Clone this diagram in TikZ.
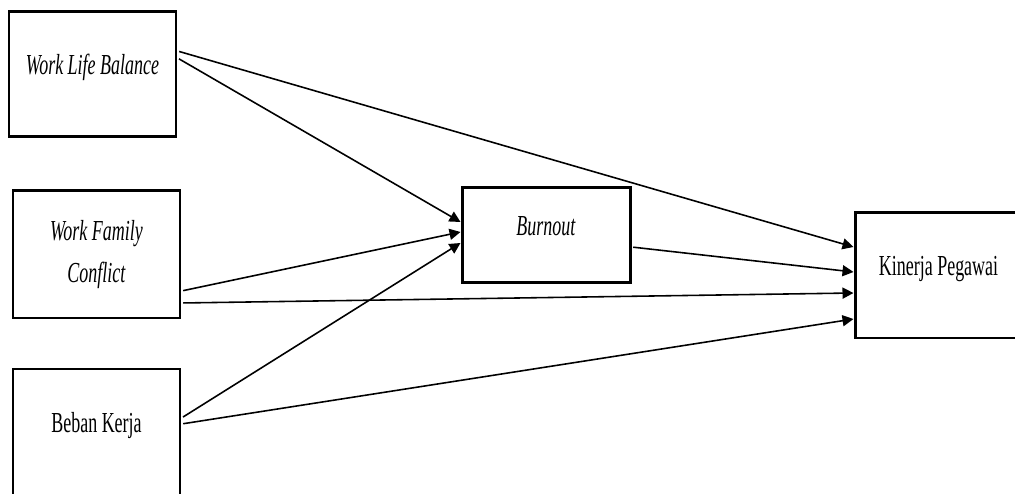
\documentclass[tikz,border=0pt]{standalone}
\usepackage{fontspec}
\setmainfont{Liberation Serif}[FakeStretch=0.62]
\usetikzlibrary{arrows.meta}

\tikzset{
    varbox/.style={draw, line width=1.7pt, minimum width=3.34cm, minimum height=2.5cm,
        inner sep=2pt, font=\fontsize{16.5pt}{23.8pt}\selectfont},
    oneline/.style={text height=3mm, text depth=3mm},
    path/.style={line width=0.9pt, shorten <=1pt, -{Triangle[length=2.2mm, width=2.2mm]}}
}

\begin{document}
\begin{tikzpicture}

% Frame of the figure (parts of two boxes run past it)
\useasboundingbox (0,0) rectangle (20.3,9.88);
\clip (0,0) rectangle (20.3,9.88);

% Independent variables (left column)
\node[varbox, oneline] (wlb) at (1.85,8.39) {\textit{Work Life Balance}};
\node[varbox, minimum height=2.54cm, align=center] (wfc) at (1.93,4.79)
    {\textit{Work Family}\\\textit{Conflict}};
\node[varbox, oneline, minimum height=2.54cm] (bk) at (1.93,1.23) {Beban Kerja};

% Mediator
\node[varbox, oneline, minimum width=3.36cm, minimum height=1.9cm] (burnout) at (10.92,5.17)
    {\textit{Burnout}};

% Dependent variable
\node[varbox, oneline] (kp) at (18.77,4.37) {Kinerja Pegawai};

% Paths into the mediator
\draw[path] ([yshift=0.33cm]wlb.east) -- ([yshift=0.27cm]burnout.west);
\draw[path] ([yshift=-0.73cm]wfc.east) -- ([yshift=0.07cm]burnout.west);
\draw[path] ([yshift=0.29cm]bk.east) -- ([yshift=-0.15cm]burnout.west);

% Paths into the dependent variable
\draw[path] ([yshift=0.47cm]wlb.east) -- ([yshift=0.57cm]kp.west);
\draw[path] ([yshift=-0.23cm]burnout.east) -- ([yshift=0.07cm]kp.west);
\draw[path] ([yshift=-0.97cm]wfc.east) -- ([yshift=-0.35cm]kp.west);
\draw[path] ([yshift=0.17cm]bk.east) -- ([yshift=-0.87cm]kp.west);

\end{tikzpicture}
\end{document}
